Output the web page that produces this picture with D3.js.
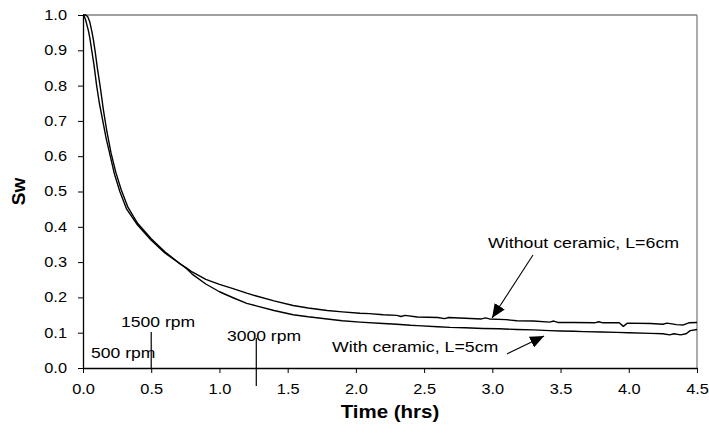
<!DOCTYPE html>
<html>
<head>
<meta charset="utf-8">
<script src="https://cdn.jsdelivr.net/npm/d3@7"></script>
<style>
  html, body { margin: 0; padding: 0; background: #fff; }
  svg { display: block; }
  text { font-family: Arial, "Liberation Sans", sans-serif; fill: #000; }
</style>
</head>
<body>
<svg id="chart" width="709" height="440"></svg>
<script>
// ---------- data ----------
const withoutTime = [0, 0.008, 0.02, 0.03, 0.04, 0.05, 0.064, 0.08, 0.10, 0.12, 0.145, 0.17, 0.20, 0.23, 0.27, 0.32, 0.40, 0.50, 0.60, 0.70,
  0.76, 0.80, 0.90, 1.00, 1.10, 1.20, 1.27, 1.40, 1.54, 1.65, 1.79, 1.90, 2.03, 2.10, 2.20, 2.30, 2.33, 2.36, 2.45, 2.60, 2.65, 2.68,
  2.80, 2.92, 2.95, 2.98, 3.10, 3.18, 3.30, 3.42, 3.45, 3.48, 3.60, 3.75, 3.78, 3.81, 3.93, 3.96, 3.99, 4.16, 4.25, 4.28, 4.35, 4.40, 4.44, 4.50];
const withoutSw = [1.0, 0.998, 0.985, 0.97, 0.955, 0.935, 0.90, 0.86, 0.80, 0.75, 0.70, 0.65, 0.60, 0.55, 0.50, 0.45, 0.405, 0.362, 0.326, 0.298,
  0.283, 0.272, 0.251, 0.237, 0.225, 0.212, 0.204, 0.190, 0.177, 0.170, 0.163, 0.159, 0.155, 0.154, 0.151, 0.149, 0.146, 0.149, 0.1445, 0.143, 0.140, 0.143,
  0.141, 0.139, 0.142, 0.139, 0.137, 0.134, 0.133, 0.130, 0.133, 0.129, 0.129, 0.128, 0.131, 0.128, 0.128, 0.118, 0.127, 0.126, 0.124, 0.127, 0.123, 0.122, 0.128, 0.129];

const withTime = [0, 0.02, 0.035, 0.05, 0.064, 0.076, 0.088, 0.105, 0.125, 0.15, 0.175, 0.205, 0.24, 0.28, 0.33, 0.40, 0.50, 0.60, 0.70,
  0.76, 0.80, 0.90, 1.00, 1.10, 1.20, 1.27, 1.40, 1.54, 1.65, 1.79, 1.90, 2.03, 2.20, 2.30, 2.40, 2.45, 2.60, 2.69, 2.80, 2.93, 3.05, 3.18,
  3.30, 3.42, 3.50, 3.60, 3.67, 3.80, 3.91, 4.00, 4.16, 4.25, 4.30, 4.33, 4.38, 4.42, 4.45, 4.50];
const withSw = [1.0, 1.0, 0.995, 0.98, 0.955, 0.93, 0.90, 0.85, 0.80, 0.73, 0.67, 0.61, 0.555, 0.505, 0.455, 0.41, 0.366, 0.329, 0.299,
  0.281, 0.266, 0.238, 0.216, 0.199, 0.183, 0.176, 0.163, 0.151, 0.145, 0.139, 0.134, 0.130, 0.126, 0.124, 0.121, 0.120, 0.117, 0.115, 0.114, 0.112, 0.111, 0.109,
  0.108, 0.106, 0.105, 0.104, 0.103, 0.102, 0.101, 0.100, 0.098, 0.097, 0.094, 0.097, 0.094, 0.097, 0.106, 0.109];

const xTicks = [0, 0.5, 1.0, 1.5, 2.0, 2.5, 3.0, 3.5, 4.0, 4.5];
const yTicks = [0, 0.1, 0.2, 0.3, 0.4, 0.5, 0.6, 0.7, 0.8, 0.9, 1.0];
const xTitle = "Time (hrs)";
const yTitle = "Sw";

// rpm annotations (data units)
const rpmLabels = ["500 rpm", "1500 rpm", "3000 rpm"];
const rpmLabelTime = [0.059, 0.279, 1.055];
const rpmLabelSw = [0.028, 0.116, 0.076];
const rpmLineTime = [0.5, 1.27];
const rpmLineTop = [0.102, 0.085];
const rpmLineBottom = [0.0, -0.051];

// series annotations (data units)
const seriesLabels = ["Without ceramic, L=6cm", "With ceramic, L=5cm"];
const seriesLabelTime = [2.968, 1.825];
const seriesLabelSw = [0.34, 0.045];
const arrowFromTime = [3.298, 3.108];
const arrowFromSw = [0.32, 0.040];
const arrowToTime = [2.998, 3.379];
const arrowToSw = [0.1416, 0.0907];

// ---------- layout ----------
const mLeft = 83, mRight = 697, mTop = 15, mBottom = 368;
const sx = 1.17; // horizontal glyph stretch seen in the reference

const svg = d3.select("#chart");
const x = d3.scaleLinear().domain([0, 4.5]).range([mLeft, mRight]);
const y = d3.scaleLinear().domain([0, 1.0]).range([mBottom, mTop]);

// plot frame (grey top/right)
svg.append("line").attr("x1", mLeft).attr("x2", mRight).attr("y1", mTop).attr("y2", mTop)
  .attr("stroke", "#808080").attr("stroke-width", 1.3);
svg.append("line").attr("x1", mRight).attr("x2", mRight).attr("y1", mTop).attr("y2", mBottom)
  .attr("stroke", "#808080").attr("stroke-width", 1.3);

// axes
const xAxis = svg.append("g").attr("transform", `translate(0,${mBottom})`)
  .call(d3.axisBottom(x).tickValues(xTicks).tickFormat(d3.format(".1f")).tickSize(5).tickSizeOuter(0));
const yAxis = svg.append("g").attr("transform", `translate(${mLeft},0)`)
  .call(d3.axisLeft(y).tickValues(yTicks).tickFormat(d3.format(".1f")).tickSize(5).tickSizeOuter(0));

[xAxis, yAxis].forEach(g => {
  g.select(".domain").attr("stroke", "#000").attr("stroke-width", 1.3);
  g.selectAll(".tick line").attr("stroke", "#000").attr("stroke-width", 1);
  g.selectAll("text").attr("font-size", 14).attr("font-family", "Arial, 'Liberation Sans', sans-serif").attr("fill", "#000");
});
xAxis.selectAll("text").attr("y", 16).attr("transform", `scale(${sx},1)`);
yAxis.selectAll("text").attr("x", -16 / sx).attr("transform", `scale(${sx},1)`);

// axis titles
svg.append("text").attr("transform", `translate(${(mLeft + mRight) / 2},418) scale(${sx},1)`)
  .attr("text-anchor", "middle").attr("font-weight", "bold").attr("font-size", 17.5).text(xTitle);
svg.append("text").attr("transform", `translate(25,${(mTop + mBottom) / 2}) rotate(-90)`)
  .attr("text-anchor", "middle").attr("font-weight", "bold").attr("font-size", 19).text(yTitle);

// series lines
const line = d3.line().x(d => x(d[0])).y(d => y(d[1]));
const seriesData = [
  d3.zip(withoutTime, withoutSw),
  d3.zip(withTime, withSw)
];
svg.append("g").selectAll("path").data(seriesData).join("path")
  .attr("d", line).attr("fill", "none").attr("stroke", "#000").attr("stroke-width", 1.4)
  .attr("stroke-linejoin", "round");

// rpm markers
svg.append("g").selectAll("line").data(rpmLineTime).join("line")
  .attr("x1", d => x(d)).attr("x2", d => x(d))
  .attr("y1", (d, i) => y(rpmLineTop[i])).attr("y2", (d, i) => y(rpmLineBottom[i]))
  .attr("stroke", "#000").attr("stroke-width", 1.2);
svg.append("g").selectAll("text").data(rpmLabels).join("text")
  .attr("transform", (d, i) => `translate(${x(rpmLabelTime[i])},${y(rpmLabelSw[i])}) scale(${sx},1)`)
  .attr("font-size", 15).text(d => d);

// series labels and arrows
const defs = svg.append("defs");
defs.append("marker").attr("id", "arrow").attr("viewBox", "0 0 14 12")
  .attr("refX", 14).attr("refY", 6).attr("markerWidth", 14).attr("markerHeight", 12)
  .attr("markerUnits", "userSpaceOnUse").attr("orient", "auto")
  .append("path").attr("d", "M0,0 L14,6 L0,12 Z").attr("fill", "#000");

svg.append("g").selectAll("text").data(seriesLabels).join("text")
  .attr("transform", (d, i) => `translate(${x(seriesLabelTime[i])},${y(seriesLabelSw[i])}) scale(${sx},1)`)
  .attr("font-size", 15.2).text(d => d);
svg.append("g").selectAll("line").data(arrowFromTime).join("line")
  .attr("x1", d => x(d)).attr("y1", (d, i) => y(arrowFromSw[i]))
  .attr("x2", (d, i) => x(arrowToTime[i])).attr("y2", (d, i) => y(arrowToSw[i]))
  .attr("stroke", "#000").attr("stroke-width", 1.1).attr("marker-end", "url(#arrow)");
</script>
</body>
</html>
